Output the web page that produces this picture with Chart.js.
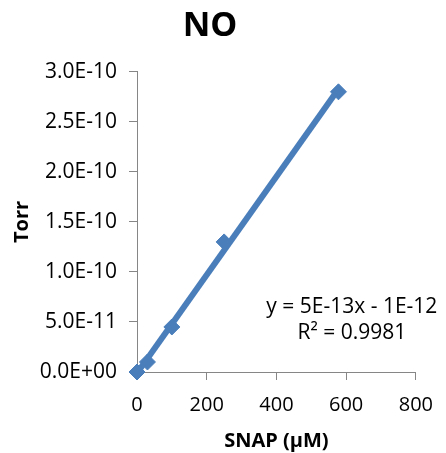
<!DOCTYPE html>
<html>
<head>
<meta charset="utf-8">
<script src="https://cdn.jsdelivr.net/npm/chart.js@4/dist/chart.umd.min.js"></script>
<style>
  html, body { margin: 0; padding: 0; background: #fff; }
  #wrap { width: 446px; height: 453px; }
</style>
</head>
<body>
<div id="wrap"><canvas id="c" width="446" height="453"></canvas></div>
<script>
// 数据：SNAP浓度(µM) 与 Torr
var snapConc = [0, 30, 100, 250, 578];
var torr = [0, 1.0e-11, 4.5e-11, 1.3e-10, 2.8e-10];
var xTicks = [0, 200, 400, 600, 800];
var yTicks = [0, 5e-11, 1e-10, 1.5e-10, 2e-10, 2.5e-10, 3e-10];
var eqText = "y = 5E-13x - 1E-12";
var r2Text = "R\u00B2 = 0.9981";

var BLUE = "#4A7EBB";
var AXIS = "#868686";
var FONT = "'Open Sans', 'DejaVu Sans', sans-serif";

// 最小二乘拟合，得到趋势线的两端
function fitLine(xs, ys) {
    var n = xs.length, mx = 0, my = 0, sxy = 0, sxx = 0;
    for (var i = 0; i < n; i++) { mx += xs[i]; my += ys[i]; }
    mx /= n; my /= n;
    for (var j = 0; j < n; j++) {
        sxy += (xs[j] - mx) * (ys[j] - my);
        sxx += (xs[j] - mx) * (xs[j] - mx);
    }
    var k = sxy / sxx, b = my - k * mx;
    var x0 = Math.min.apply(null, xs), x1 = Math.max.apply(null, xs);
    return [{x: x0, y: k * x0 + b}, {x: x1, y: k * x1 + b}];
}

// 科学计数法，指数补成两位，如 0.0E+00
function sci(v) {
    var s = v.toExponential(1).toUpperCase();
    return s.replace(/E([+-])(\d)$/, "E$10$2");
}

var points = snapConc.map(function (x, i) { return {x: x, y: torr[i]}; });

// 趋势线公式文字
var eqPlugin = {
    id: "eqText",
    afterDraw: function (chart) {
        var ctx = chart.ctx, a = chart.chartArea;
        ctx.save();
        ctx.fillStyle = "#000";
        ctx.font = "21px " + FONT;
        ctx.textAlign = "center";
        ctx.textBaseline = "middle";
        ctx.fillText(eqText, a.right - 64, a.bottom - 65);
        ctx.fillText(r2Text, a.right - 64, a.bottom - 39);
        ctx.restore();
    }
};

new Chart(document.getElementById("c"), {
    type: "scatter",
    data: {
        datasets: [{
            type: "line",
            data: fitLine(snapConc, torr),
            borderColor: BLUE,
            borderWidth: 6,
            pointRadius: 0,
            fill: false,
            clip: false
        }, {
            data: points,
            pointStyle: "rectRot",
            pointRadius: 8,
            pointBackgroundColor: BLUE,
            pointBorderColor: BLUE,
            pointBorderWidth: 1,
            clip: false
        }]
    },
    options: {
        responsive: false,
        animation: false,
        layout: { padding: { left: 0, right: 26, top: 0, bottom: 0 } },
        plugins: {
            legend: { display: false },
            tooltip: { enabled: false },
            title: {
                display: true,
                text: "NO",
                color: "#000",
                font: { family: FONT, size: 34, weight: "bold", lineHeight: 1.2 },
                padding: { top: 6, bottom: 25 }
            }
        },
        scales: {
            x: {
                type: "linear",
                min: 0, max: 800,
                afterBuildTicks: function (s) { s.ticks = xTicks.map(function (v) { return {value: v}; }); },
                afterFit: function (s) { s.height = 81; },
                border: { display: true, color: AXIS, width: 1 },
                grid: { drawOnChartArea: false, drawTicks: true, tickLength: 8, color: AXIS },
                ticks: { color: "#000", padding: 13, font: { family: FONT, size: 20 } },
                title: {
                    display: true, text: "SNAP (\u00B5M)", color: "#000",
                    font: { family: FONT, size: 20, weight: "bold", lineHeight: 1.2 },
                    padding: { top: 0, bottom: 0 }
                }
            },
            y: {
                type: "linear",
                min: 0, max: 3e-10,
                afterBuildTicks: function (s) { s.ticks = yTicks.map(function (v) { return {value: v}; }); },
                afterFit: function (s) { s.width = 137; },
                border: { display: true, color: AXIS, width: 1 },
                grid: { drawOnChartArea: false, drawTicks: true, tickLength: 8, color: AXIS },
                ticks: {
                    color: "#000", padding: 12, font: { family: FONT, size: 21 },
                    callback: function (v) { return sci(v); }
                },
                title: {
                    display: true, text: "Torr", color: "#000",
                    font: { family: FONT, size: 20, weight: "bold", lineHeight: 1.2 },
                    padding: { top: 10, bottom: 0 }
                }
            }
        }
    },
    plugins: [eqPlugin]
});
</script>
</body>
</html>
